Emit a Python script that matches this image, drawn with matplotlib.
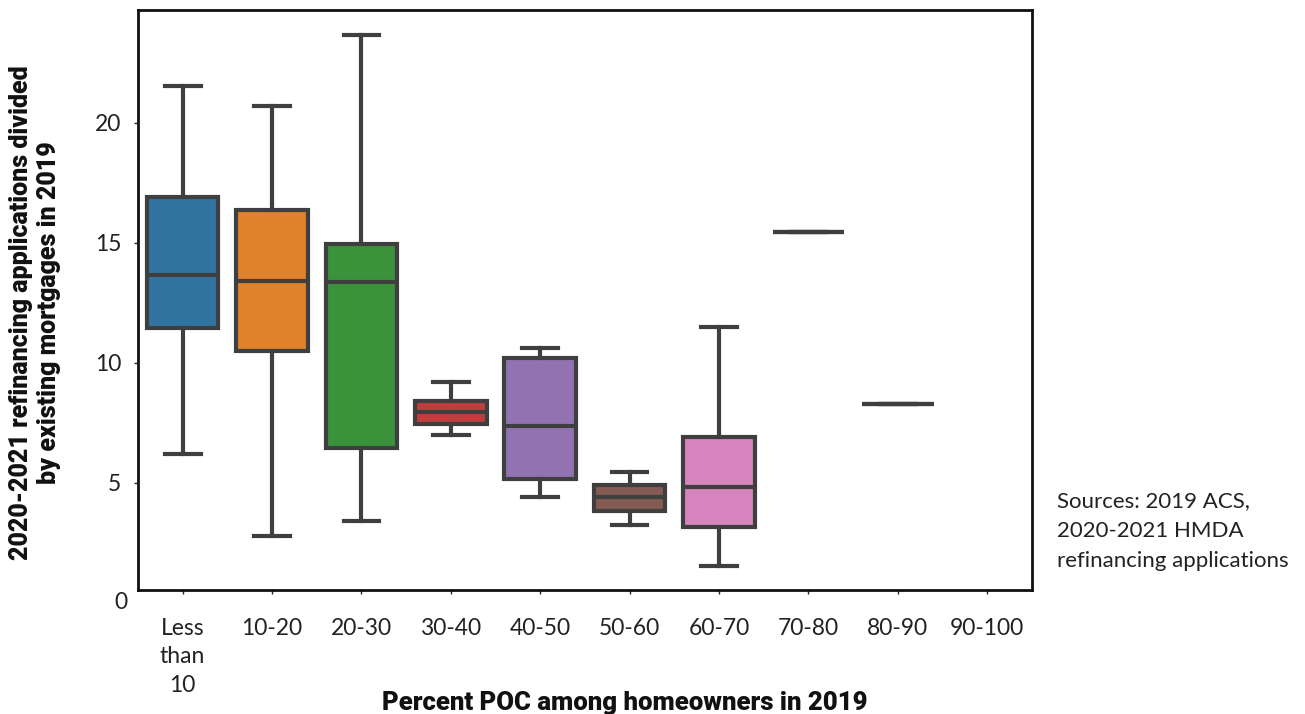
import matplotlib
matplotlib.use('Agg')
import matplotlib.pyplot as plt

# box stats (one entry per POC bucket)
categories = ['Less\nthan\n10', '10-20', '20-30', '30-40', '40-50',
              '50-60', '60-70', '70-80', '80-90', '90-100']
whis_lo = [6.2, 2.8, 3.4, 7.0, 4.4, 3.25, 1.55, 15.45, 8.3]
q1      = [11.45, 10.5, 6.45, 7.45, 5.15, 3.85, 3.15, 15.45, 8.3]
median  = [13.65, 13.4, 13.35, 7.95, 7.35, 4.4, 4.85, 15.45, 8.3]
q3      = [16.9, 16.35, 14.95, 8.4, 10.2, 4.9, 6.9, 15.45, 8.3]
whis_hi = [21.55, 20.7, 23.65, 9.2, 10.6, 5.45, 11.5, 15.45, 8.3]
colors = ['#3274a1', '#e1812c', '#3a923a', '#c03d3e', '#9372b2',
          '#845b53', '#d684bd', '#7f7f7f', '#a9aa35']

line_col = '#3f3f3f'
tick_font = 'Lato'
heavy_font = ['Roboto', 'DejaVu Sans']

fig = plt.figure(figsize=(13.05, 7.14), dpi=100)
ax = fig.add_axes([0.1057, 0.1737, 0.685, 0.8123])

stats = []
for i in range(len(q1)):
    stats.append({'whislo': whis_lo[i], 'q1': q1[i], 'med': median[i],
                  'q3': q3[i], 'whishi': whis_hi[i], 'fliers': []})

bp = ax.bxp(stats, positions=range(len(stats)), widths=0.8, patch_artist=True,
            showfliers=False,
            boxprops=dict(linewidth=3, edgecolor=line_col),
            medianprops=dict(linewidth=3, color=line_col),
            whiskerprops=dict(linewidth=3, color=line_col),
            capprops=dict(linewidth=3, color=line_col))
for patch, c in zip(bp['boxes'], colors):
    patch.set_facecolor(c)

ax.set_xlim(-0.5, len(categories) - 0.5)
ax.set_ylim(0.54, 24.7)
ax.set_xticks(range(len(categories)))
ax.set_xticklabels(categories, fontsize=16.5, family=tick_font, color='#222222',
                   linespacing=1.45, va='top')
ax.set_yticks([5, 10, 15, 20])
ax.set_yticklabels(['5', '10', '15', '20'], fontsize=16.5, family=tick_font,
                   color='#222222')
# the 0 label sits just below the frame in the original
ax.text(-0.012, 0, '0', transform=ax.get_yaxis_transform(), ha='right',
        va='center', fontsize=16.5, family=tick_font, color='#222222',
        clip_on=False)
ax.tick_params(axis='y', length=3, width=1, color='#222222', pad=9)
ax.tick_params(axis='x', length=3, width=1, color='#222222', pad=17)
for s in ax.spines.values():
    s.set_linewidth(2)
    s.set_color('#111111')

fig.text(0.479, 0.0154, 'Percent POC among homeowners in 2019', fontsize=18.5,
         family=heavy_font, fontweight='black', color='#111111',
         ha='center', va='center')
fig.text(0.0268, 0.5616,
         '2020-2021 refinancing applications divided\nby existing mortgages in 2019',
         fontsize=18, family=heavy_font, fontweight='black', color='#111111',
         rotation=90, ha='center', va='center', linespacing=1.25,
         multialignment='center')

fig.text(0.81, 0.2563, 'Sources: 2019 ACS,\n2020-2021 HMDA\nrefinancing applications',
         fontsize=16, family=tick_font, color='#222222', va='center',
         linespacing=1.65)

fig.savefig('out.png', dpi=100)
